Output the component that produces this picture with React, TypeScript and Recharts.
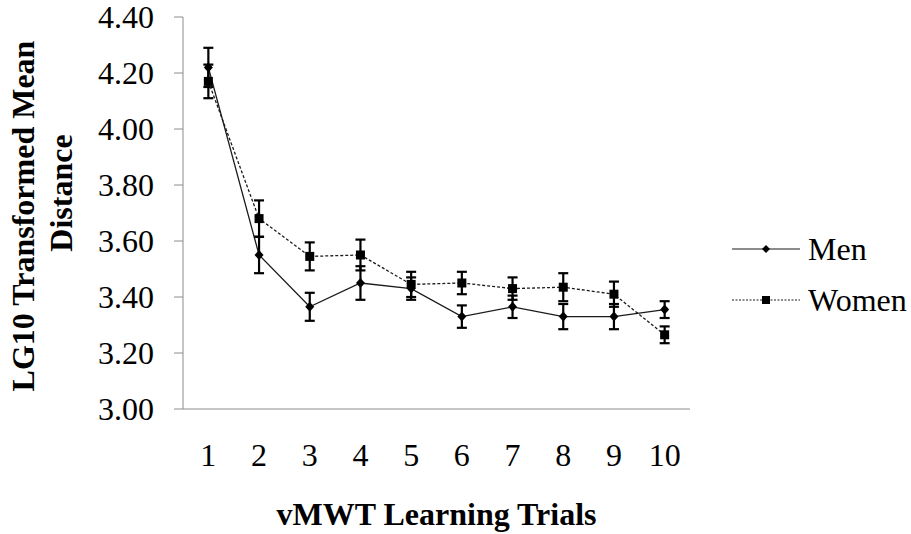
import React from 'react';
import { LineChart, Line, XAxis, YAxis, ErrorBar, Legend, Label } from 'recharts';

// Learning-trial means (log10 distance) with standard errors
const trials = [1, 2, 3, 4, 5, 6, 7, 8, 9, 10];
const menMean = [4.22, 3.55, 3.365, 3.45, 3.43, 3.33, 3.365, 3.33, 3.33, 3.355];
const menErr = [0.07, 0.065, 0.05, 0.06, 0.04, 0.04, 0.04, 0.045, 0.045, 0.03];
const womenMean = [4.17, 3.68, 3.545, 3.55, 3.445, 3.45, 3.43, 3.435, 3.41, 3.265];
const womenErr = [0.06, 0.065, 0.05, 0.055, 0.045, 0.04, 0.04, 0.05, 0.045, 0.03];
const yTicks = [3.0, 3.2, 3.4, 3.6, 3.8, 4.0, 4.2, 4.4];
const trialEdges = [0.5, 1.5, 2.5, 3.5, 4.5, 5.5, 6.5, 7.5, 8.5, 9.5, 10.5];

const data = trials.map((t, i) => ({
  trial: t,
  men: menMean[i],
  menErr: menErr[i],
  women: womenMean[i],
  womenErr: womenErr[i],
}));

const serif = '"Liberation Serif", "Times New Roman", serif';
const axisGray = '#8c8c8c';
const ink = '#1a1a1a';

const Diamond = (props: any) => {
  const { cx, cy } = props;
  if (cx == null || cy == null) return null;
  return (
    <path
      key={`d-${props.index}`}
      d={`M${cx} ${cy - 5}L${cx + 4.5} ${cy}L${cx} ${cy + 5}L${cx - 4.5} ${cy}Z`}
      fill="#000"
    />
  );
};

const Square = (props: any) => {
  const { cx, cy } = props;
  if (cx == null || cy == null) return null;
  return <rect key={`s-${props.index}`} x={cx - 4.5} y={cy - 4.5} width={9} height={9} fill="#000" />;
};

// two-line rotated title; baselines sit on the right-hand side of the glyphs
const YTitle = (props: any) => {
  const vb = props.viewBox;
  const cy = vb.y + vb.height / 2;
  const style = { fontFamily: serif, fontWeight: 'bold' as const, fontSize: 32, fill: '#000' };
  return (
    <g>
      <text x={34} y={cy + 3} transform={`rotate(-90, 34, ${cy + 3})`} textAnchor="middle" style={style}>
        LG10 Transformed Mean
      </text>
      <text x={72} y={cy - 20} transform={`rotate(-90, 72, ${cy - 20})`} textAnchor="middle" style={style}>
        Distance
      </text>
    </g>
  );
};

const renderLegend = (props: any) => {
  const { payload } = props;
  return (
    <div style={{ fontFamily: serif, fontSize: 32, color: '#000' }}>
      {payload.map((entry: any) => {
        const isMen = entry.dataKey === 'men';
        return (
          <div key={entry.value} style={{ display: 'flex', alignItems: 'center', height: 51 }}>
            <svg width={78} height={20} style={{ display: 'block' }}>
              <line x1={2} y1={10} x2={70} y2={10} stroke={ink} strokeWidth={1.2} strokeDasharray={isMen ? undefined : '2 1.5'} />
              {isMen ? (
                <path d="M36 6L40 10L36 14L32 10Z" fill="#000" />
              ) : (
                <rect x={32} y={6} width={8} height={8} fill="#000" />
              )}
            </svg>
            <span style={{ lineHeight: 1 }}>{entry.value}</span>
          </div>
        );
      })}
    </div>
  );
};

export default function App() {
  return (
    <div style={{ position: 'absolute', left: 0, top: 0, background: '#fff' }}>
      <LineChart width={911} height={534} data={data} margin={{ top: 17, right: 221, bottom: 123, left: 0 }}>
        <XAxis
          xAxisId="edges"
          dataKey="trial"
          type="number"
          domain={[0.5, 10.5]}
          ticks={trialEdges}
          interval={0}
          tick={false}
          tickSize={9}
          height={1}
          stroke={axisGray}
        />
        <XAxis
          xAxisId="labels"
          dataKey="trial"
          type="number"
          domain={[0.5, 10.5]}
          ticks={trials}
          interval={0}
          axisLine={false}
          tickLine={false}
          tickSize={0}
          tickMargin={33}
          height={1}
          tick={{ fontFamily: serif, fontSize: 32, fill: '#000' }}
        >
          <Label value="vMWT Learning Trials" position="bottom" offset={91} fontFamily={serif} fontSize={32} fontWeight="bold" fill="#000" />
        </XAxis>
        <YAxis
          width={183}
          type="number"
          domain={[3, 4.4]}
          ticks={yTicks}
          interval={0}
          tickFormatter={(v: number) => v.toFixed(2)}
          tickSize={9}
          tickMargin={20}
          stroke={axisGray}
          tick={{ fontFamily: serif, fontSize: 32, fill: '#000' }}
          label={{ content: YTitle }}
        />
        <Legend
          layout="vertical"
          align="center"
          verticalAlign="middle"
          content={renderLegend}
          wrapperStyle={{ left: 730, top: 223, width: 181 }}
        />
        <Line
          xAxisId="edges"
          name="Men"
          dataKey="men"
          stroke={ink}
          strokeWidth={1.3}
          dot={Diamond}
          activeDot={false}
          isAnimationActive={false}
        >
          <ErrorBar dataKey="menErr" direction="y" width={5} stroke="#000" strokeWidth={2.2} />
        </Line>
        <Line
          xAxisId="edges"
          name="Women"
          dataKey="women"
          stroke={ink}
          strokeWidth={1.3}
          strokeDasharray="3 2"
          dot={Square}
          activeDot={false}
          isAnimationActive={false}
        >
          <ErrorBar dataKey="womenErr" direction="y" width={5} stroke="#000" strokeWidth={2.2} />
        </Line>
      </LineChart>
    </div>
  );
}
